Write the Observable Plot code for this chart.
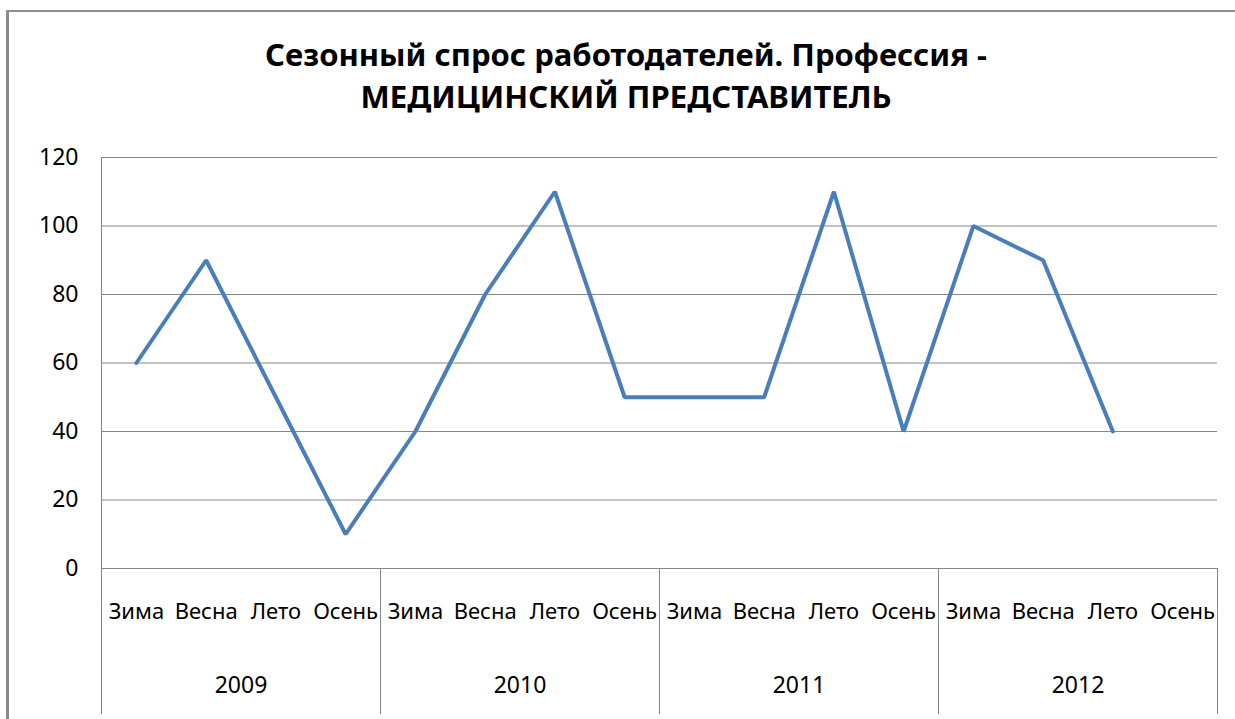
<!DOCTYPE html>
<html><head><meta charset="utf-8">
<script src="https://cdn.jsdelivr.net/npm/d3@7"></script>
<script src="https://cdn.jsdelivr.net/npm/@observablehq/plot@0.6"></script>
<style>
body{margin:0;background:#fff;}
#wrap{position:relative;width:1235px;height:719px;overflow:hidden;font-family:"Noto Sans",sans-serif;background:#fff;}
#chart{position:absolute;left:0;top:0;}
#title{position:absolute;left:0;width:1252px;top:33px;text-align:center;font-weight:bold;font-size:31px;line-height:42px;color:#000;}
#frameL{position:absolute;left:6px;top:10px;width:3px;height:709px;background:#8a8a8a;}
#frameT{position:absolute;left:6px;top:10px;width:1229px;height:2px;background:#8f8f8f;}
</style>
</head><body>
<div id="wrap">
<div id="chart"></div>
<div id="frameL"></div><div id="frameT"></div>
<div id="title">Сезонный спрос работодателей. Профессия -<br>МЕДИЦИНСКИЙ ПРЕДСТАВИТЕЛЬ</div>
</div>
<script>
const years = ["2009", "2010", "2011", "2012"];
const seasons = ["Зима", "Весна", "Лето", "Осень"];
const values = [60, 90, 50, 10, 40, 80, 110, 50, 50, 50, 110, 40, 100, 90, 40, null];
const yTicks = [0, 20, 40, 60, 80, 100, 120];

const rows = values.map((v, i) => ({i, v, season: seasons[i % 4], year: years[Math.floor(i / 4)]}));
const yearRows = years.map((y, k) => ({year: y, mid: k * 4 + 1.5}));
const bounds = d3.range(years.length + 1).map(k => k * 4 - 0.5);
const grey = "#868686";

const plot = Plot.plot({
  width: 1235,
  height: 719,
  marginLeft: 101,
  marginRight: 18,
  marginTop: 157,
  marginBottom: 151,
  style: {fontFamily: "Noto Sans", fontSize: "23px", color: "#000", background: "transparent", overflow: "visible"},
  x: {domain: [-0.5, values.length - 0.5], axis: null},
  y: {domain: [0, 120], axis: null},
  marks: [
    Plot.gridY(yTicks, {stroke: grey, strokeOpacity: 1, strokeWidth: 1}),
    Plot.axisY(yTicks, {tickSize: 0, tickPadding: 23, fontSize: 23, fill: "#000", label: null}),
    Plot.ruleY([0], {stroke: grey, strokeWidth: 1}),
    Plot.ruleX([bounds[0]], {x: d => d, y1: 120, y2: 0, stroke: grey, strokeWidth: 1, insetBottom: -146}),
    Plot.ruleX(bounds.slice(1), {x: d => d, y1: 0, y2: 0, stroke: grey, strokeWidth: 1, insetBottom: -146}),
    Plot.text(rows, {x: "i", y: () => 0, text: "season", dy: 43, fontSize: 22, fill: "#000"}),
    Plot.text(yearRows, {x: "mid", y: () => 0, text: "year", dy: 117, fontSize: 23, fill: "#000"}),
    Plot.line(rows, {x: "i", y: "v", stroke: "#4a7ebb", strokeWidth: 4, strokeLinejoin: "miter"})
  ]
});
document.getElementById("chart").appendChild(plot);
</script>
</body></html>
